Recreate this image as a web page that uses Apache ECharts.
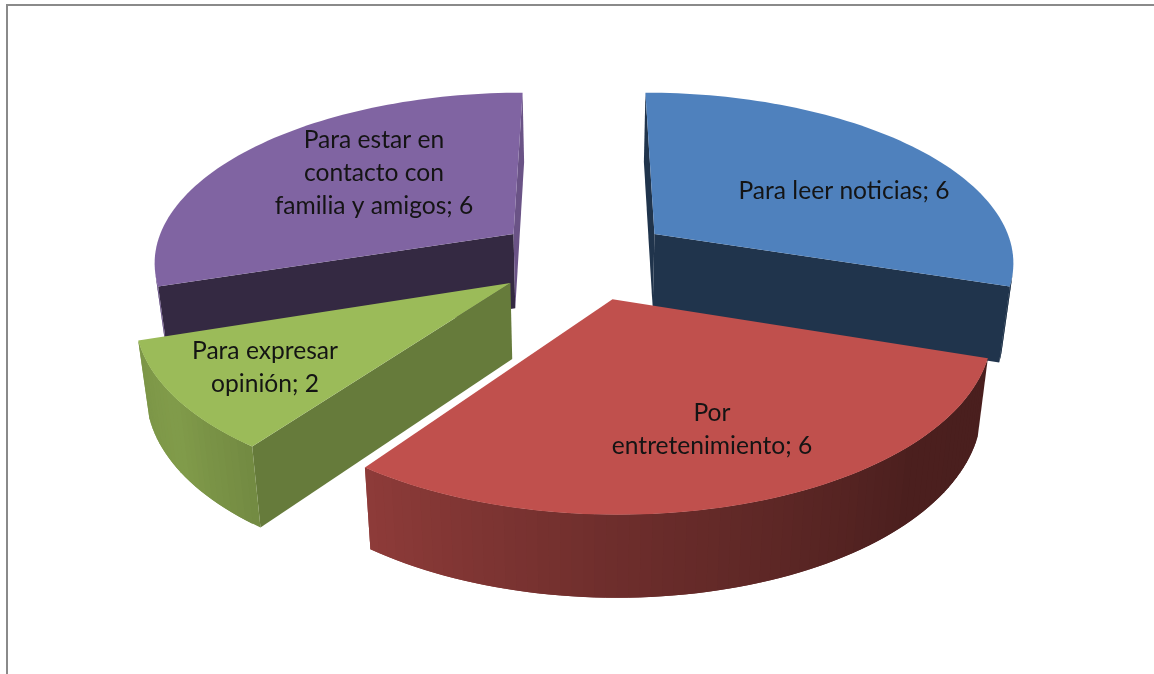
<!DOCTYPE html>
<html><head><meta charset="utf-8">
<style>html,body{margin:0;padding:0;background:#fff}#c{width:1154px;height:674px}</style>
<script src="https://cdn.jsdelivr.net/npm/echarts@6/dist/echarts.min.js"></script>
</head><body><div id="c"></div>
<script>
const categories = ['Para leer noticias', 'Por\nentretenimiento', 'Para expresar\nopinión', 'Para estar en\ncontacto con\nfamilia y amigos'];
const values = [6, 6, 2, 6];
const topColors = ['#4f81bd', '#c0504d', '#9bbb59', '#8064a2'];
// shade of the radial wall at the start and at the end of each slice
const wallShades = [[0.40, 0.40], [0.40, 0.40], [0.66, 0.66], [0.41, 0.83]];
const labelCenters = [[844, 191.5], [712, 429.5], [265, 368], [374, 173.5]];
// shade of the rim against clockwise angle from the top
const rimShades = [[90, 0.38], [135, 0.39], [180, 0.57], [216, 0.74], [234, 0.83], [252, 0.80]];

const CX = 584, CY = 258, R = 361, EXPLODE = 89, TILT = 0.469, PERSP = 2400, DEPTH = 75, BASE_SHRINK = 0.975;
const total = values.reduce((a, b) => a + b, 0);
const rad = d => d * Math.PI / 180;

function project(X, Y, low) {
  const s = 1 / (1 - Y / PERSP);
  return [CX + X * s * (low ? BASE_SHRINK : 1), CY + TILT * Y * s + (low ? DEPTH * Math.sqrt(s) : 0)];
}
function shadeColor(hex, f) {
  const n = parseInt(hex.slice(1), 16);
  const c = [n >> 16 & 255, n >> 8 & 255, n & 255].map(v => Math.round(v * f));
  return `rgb(${c.join(',')})`;
}
function rimShade(a) {
  if (a <= rimShades[0][0]) return rimShades[0][1];
  for (let i = 1; i < rimShades.length; i++) {
    if (a <= rimShades[i][0]) {
      const [a0, f0] = rimShades[i - 1], [a1, f1] = rimShades[i];
      return f0 + (f1 - f0) * (a - a0) / (a1 - a0);
    }
  }
  return rimShades[rimShades.length - 1][1];
}
function area(p) {
  let s = 0;
  for (let i = 0; i < p.length; i++) {
    const a = p[i], b = p[(i + 1) % p.length];
    s += a[0] * b[1] - b[0] * a[1];
  }
  return s / 2;
}
function poly(points, fill, z2) {
  return { type: 'polygon', shape: { points }, z2, silent: true, style: { fill } };
}
function renderSlice(params) {
  const i = params.dataIndex;
  const before = values.slice(0, i).reduce((a, b) => a + b, 0);
  const a0 = before / total * 360, a1 = (before + values[i]) / total * 360, mid = (a0 + a1) / 2;
  const ox = EXPLODE * Math.sin(rad(mid)), oy = -EXPLODE * Math.cos(rad(mid));
  const rank = Math.round((oy + EXPLODE) * 100) * 100;
  const rim = a => [ox + R * Math.sin(rad(a)), oy - R * Math.cos(rad(a))];
  const color = topColors[i];
  const children = [];
  let z = rank;
  const face = (P, Q, fill) => {
    const pts = [project(P[0], P[1], false), project(Q[0], Q[1], false), project(Q[0], Q[1], true), project(P[0], P[1], true)];
    return { pts, fill };
  };
  const apex = [ox, oy];
  const candidates = [face(apex, rim(a0), shadeColor(color, wallShades[i][0])), face(rim(a1), apex, shadeColor(color, wallShades[i][1]))];
  const steps = Math.max(8, Math.round((a1 - a0) / 1.5));
  const delta = (a1 - a0) / steps;
  for (let k = 0; k < steps; k++) {
    // each strip reaches over the next one, which paints on top of it, so no seams show
    const t0 = a0 + delta * k, t1 = Math.min(a1, t0 + delta * 2);
    candidates.push(face(rim(t0), rim(t1), shadeColor(color, rimShade(t0 + delta / 2))));
  }
  candidates.forEach(c => {
    if (area(c.pts) < 0) children.push(poly(c.pts, c.fill, z++));
  });
  const topPts = [project(ox, oy, false)];
  for (let k = 0; k <= steps; k++) {
    const p = rim(a0 + delta * k);
    topPts.push(project(p[0], p[1], false));
  }
  children.push({ type: 'polygon', shape: { points: topPts }, z2: rank + 5000, silent: true, style: { fill: color } });
  children.push({
    type: 'text', z2: 9000000, silent: true,
    x: labelCenters[i][0], y: labelCenters[i][1],
    style: {
      text: categories[i] + '; ' + values[i],
      font: '24.6px Lato', lineHeight: 33, fill: '#141414',
      align: 'center', verticalAlign: 'middle'
    }
  });
  return { type: 'group', children };
}

const chart = echarts.init(document.getElementById('c'), null, { renderer: 'canvas' });
chart.setOption({
  animation: false,
  backgroundColor: '#fff',
  graphic: [
    { type: 'rect', shape: { x: 6, y: 4, width: 1148, height: 2 }, style: { fill: '#8a8a8a' }, silent: true },
    { type: 'rect', shape: { x: 6, y: 4, width: 2, height: 670 }, style: { fill: '#8a8a8a' }, silent: true }
  ],
  series: [{
    type: 'custom', coordinateSystem: 'none', clip: false,
    renderItem: renderSlice,
    data: values
  }]
});
</script></body></html>
